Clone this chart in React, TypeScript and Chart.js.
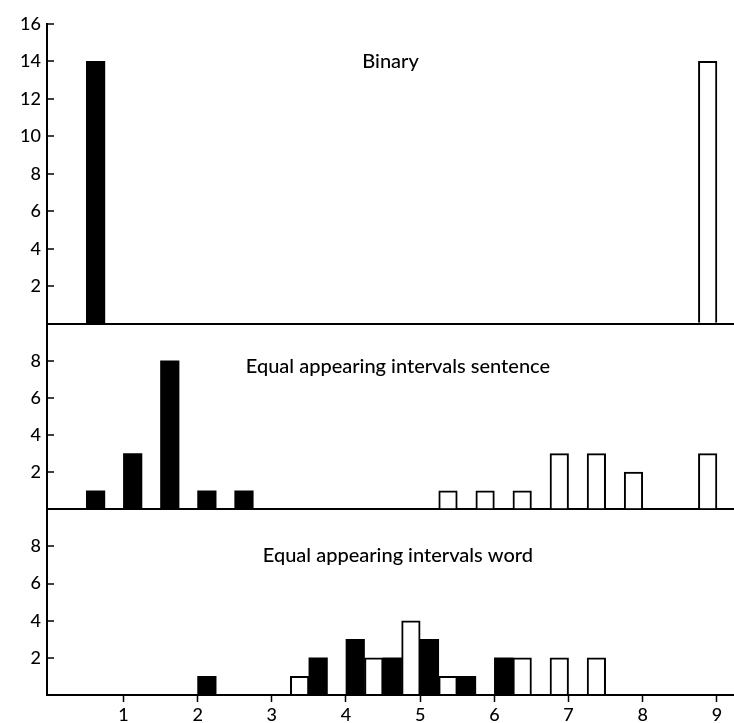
import React, { useEffect, useRef } from "react";
import { Chart, registerables } from "chart.js";

Chart.register(...registerables);

// Bin centres (each bin is 0.5 wide; dark bar in left half, light bar in right half)
const binCenters = [0.75, 1.25, 1.75, 2.25, 2.75, 3.25, 3.75, 4.25, 4.75, 5.25, 5.75, 6.25, 6.75, 7.25, 7.75, 8.25, 8.75];

// Panel 1: Binary
const binaryDark = [14, null, null, null, null, null, null, null, null, null, null, null, null, null, null, null, null];
const binaryLight = [null, null, null, null, null, null, null, null, null, null, null, null, null, null, null, null, 14];

// Panel 2: Equal appearing intervals sentence
const sentenceDark = [1, 3, 8, 1, 1, null, null, null, null, null, null, null, null, null, null, null, null];
const sentenceLight = [null, null, null, null, null, null, null, null, null, 1, 1, 1, 3, 3, 2, null, 3];

// Panel 3: Equal appearing intervals word
const wordDark = [null, null, null, 1, null, null, 2, 3, 2, 3, 1, 2, null, null, null, null, null];
const wordLight = [null, null, null, null, null, 1, null, 2, 4, 1, null, 2, 2, 2, null, null, null];

const panelTitles = ["Binary", "Equal appearing intervals sentence", "Equal appearing intervals word"];
const xTicks = [1, 2, 3, 4, 5, 6, 7, 8, 9];
const panel1Ticks = [2, 4, 6, 8, 10, 12, 14, 16];
const panel23Ticks = [2, 4, 6, 8];

const FONT = "Lato, 'Open Sans', sans-serif";

const toPoints = (vals: (number | null)[]) => binCenters.map((x, i) => ({ x, y: vals[i] }));

// title anchor positions in data units: [x, y, axis]
const titleAnchors: [number, number, string][] = [
  [4.6, 14.0, "y1"],
  [4.7, 7.7, "y2"],
  [4.7, 7.5, "y3"],
];

const tickVal = (c: any) => (c && c.tick ? c.tick.value : undefined);

const titlePlugin = {
  id: "panelTitles",
  afterDatasetsDraw(chart: any) {
    const { ctx } = chart;
    ctx.save();
    ctx.font = `500 20px ${FONT}`;
    ctx.fillStyle = "#000";
    ctx.textAlign = "center";
    ctx.textBaseline = "middle";
    panelTitles.forEach((t, i) => {
      const [tx, ty, axis] = titleAnchors[i];
      const px = chart.scales.x.getPixelForValue(tx);
      const py = chart.scales[axis].getPixelForValue(ty);
      ctx.fillText(t, px, py);
    });
    ctx.restore();
  },
};

function yAxis(max: number, labelled: number[], weight: number, order: number) {
  return {
    type: "linear" as const,
    position: "left" as const,
    stack: "panels",
    stackWeight: weight,
    weight: order,
    min: 0,
    max,
    offset: false,
    border: { display: true, color: "#000", width: 2 },
    grid: {
      offset: false,
      drawOnChartArea: true,
      drawTicks: true,
      tickLength: -7,
      tickWidth: 1.5,
      tickColor: (c: any) => (labelled.includes(tickVal(c)) ? "#000" : "rgba(0,0,0,0)"),
      color: (c: any) => (tickVal(c) === 0 ? "#000" : "rgba(0,0,0,0)"),
      lineWidth: 2,
    },
    ticks: {
      stepSize: 2,
      autoSkip: false,
      padding: 13,
      color: "#000",
      font: { family: FONT, size: 18, weight: "500" },
      callback: (v: any) => (labelled.includes(v) ? String(v) : ""),
    },
    afterFit: (s: any) => {
      s.width = 47;
    },
  };
}

export default function App() {
  const ref = useRef<HTMLCanvasElement>(null);
  useEffect(() => {
    if (!ref.current) return;
    const chart = new Chart(ref.current, {
      type: "bar",
      data: {
        datasets: [
          { label: "Binary dark", data: toPoints(binaryDark), yAxisID: "y1", stack: "dark", backgroundColor: "#000", borderWidth: 0 },
          { label: "Binary light", data: toPoints(binaryLight), yAxisID: "y1", stack: "light", backgroundColor: "#fff", borderColor: "#000", borderWidth: 2 },
          { label: "Sentence dark", data: toPoints(sentenceDark), yAxisID: "y2", stack: "dark", backgroundColor: "#000", borderWidth: 0 },
          { label: "Sentence light", data: toPoints(sentenceLight), yAxisID: "y2", stack: "light", backgroundColor: "#fff", borderColor: "#000", borderWidth: 2 },
          { label: "Word dark", data: toPoints(wordDark), yAxisID: "y3", stack: "dark", backgroundColor: "#000", borderWidth: 0 },
          { label: "Word light", data: toPoints(wordLight), yAxisID: "y3", stack: "light", backgroundColor: "#fff", borderColor: "#000", borderWidth: 2 },
        ] as any,
      },
      options: {
        animation: false,
        responsive: false,
        devicePixelRatio: 1,
        categoryPercentage: 1,
        barPercentage: 1,
        layout: { padding: { top: 19, left: 0, right: 0, bottom: 0 } },
        plugins: { legend: { display: false }, tooltip: { enabled: false }, title: { display: false } },
        scales: {
          x: {
            type: "linear",
            min: -0.03,
            max: 9.23,
            offset: false,
            border: { display: true, color: "#000", width: 2 },
            grid: {
              offset: false,
              drawOnChartArea: false,
              drawTicks: true,
              tickLength: 7,
              tickWidth: 1.5,
              tickColor: (c: any) => (xTicks.includes(tickVal(c)) ? "#000" : "rgba(0,0,0,0)"),
            },
            ticks: {
              stepSize: 1,
              includeBounds: false,
              autoSkip: false,
              padding: 2,
              maxRotation: 0,
              color: "#000",
              font: { family: FONT, size: 18, weight: "500" },
              callback: (v: any) => (xTicks.includes(v) ? String(v) : ""),
            },
            afterFit: (s: any) => {
              s.height = 28;
            },
          },
          y1: yAxis(16, panel1Ticks, 302, 3),
          y2: yAxis(10, panel23Ticks, 187, 2),
          y3: yAxis(10, panel23Ticks, 187, 1),
        } as any,
      },
      plugins: [titlePlugin],
    });
    return () => chart.destroy();
  }, []);
  return (
    <div style={{ position: "fixed", left: 0, top: 0, width: 734, height: 723, background: "#fff" }}>
      <canvas ref={ref} width={734} height={723} style={{ display: "block", width: 734, height: 723 }} />
    </div>
  );
}
